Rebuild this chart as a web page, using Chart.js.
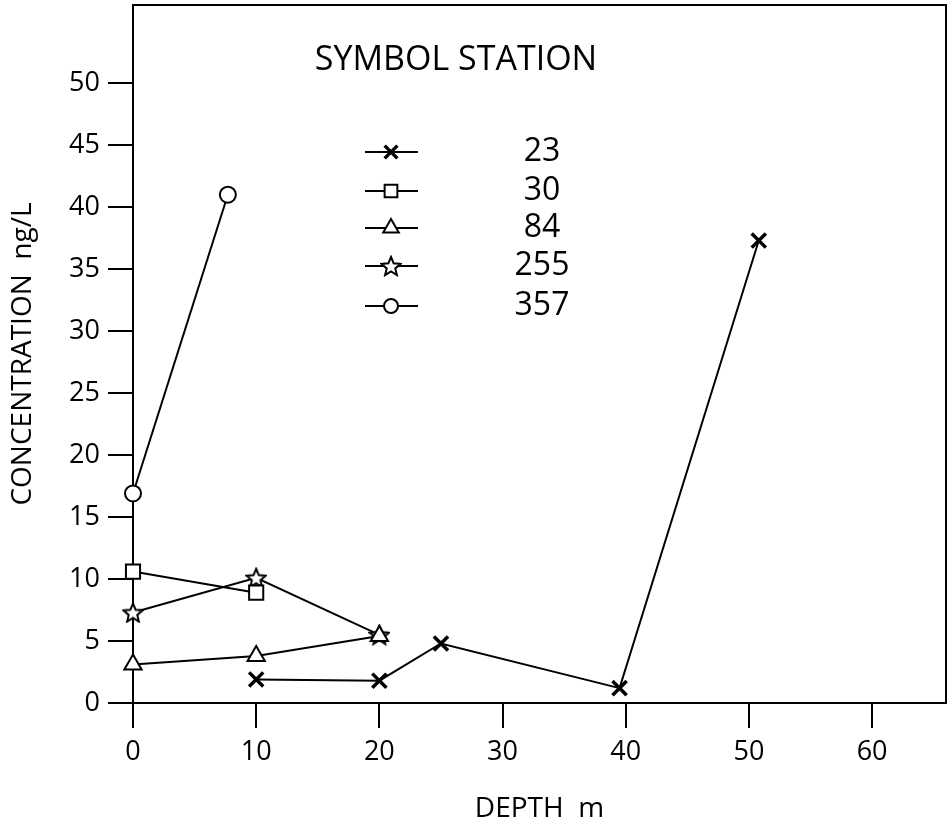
<!DOCTYPE html>
<html lang="en">
<head>
<meta charset="UTF-8">
<title>Concentration vs depth</title>
<script src="https://cdn.jsdelivr.net/npm/chart.js@4/dist/chart.umd.min.js"></script>
<style>
  body { margin: 0; background: #fff; }
  #wrap { width: 948px; height: 826px; }
</style>
</head>
<body>
<div id="wrap"><canvas id="chart" width="948" height="826"></canvas></div>
<script>
  // stations and their (depth, concentration) readings
  const stations = ['23', '30', '84', '255', '357'];
  const depth23 = [10, 20, 25, 39.5, 50.8];
  const conc23 = [1.9, 1.8, 4.8, 1.2, 37.3];
  const depth30 = [0, 10];
  const conc30 = [10.6, 8.9];
  const depth84 = [0, 10, 20];
  const conc84 = [3.1, 3.8, 5.4];
  const depth255 = [0, 10, 20];
  const conc255 = [7.3, 10.1, 5.5];
  const depth357 = [0, 7.7];
  const conc357 = [16.9, 41.0];
  const xTicks = [0, 10, 20, 30, 40, 50, 60];
  const yTicks = [0, 5, 10, 15, 20, 25, 30, 35, 40, 45, 50];

  const FONT = "'Open Sans', 'DejaVu Sans', sans-serif";

  // outlined five point star for station 255
  const star = document.createElement('canvas');
  star.width = 22; star.height = 22;
  (function () {
    const c = star.getContext('2d');
    c.beginPath();
    for (let i = 0; i < 10; i++) {
      const r = i % 2 === 0 ? 10 : 4.5;
      const a = -Math.PI / 2 + i * Math.PI / 5;
      const px = 11 + r * Math.cos(a), py = 12 + r * Math.sin(a);
      if (i === 0) c.moveTo(px, py); else c.lineTo(px, py);
    }
    c.closePath();
    c.fillStyle = '#fff';
    c.fill();
    c.lineWidth = 2;
    c.strokeStyle = '#000';
    c.stroke();
  })();

  function pts(xs, ys) {
    return xs.map((x, i) => ({ x: x, y: ys[i] }));
  }

  const styles = ['crossRot', 'rect', 'triangle', star, 'circle'];
  const radii = [10, 10, 10, 8, 8];
  const series = [
    pts(depth23, conc23),
    pts(depth30, conc30),
    pts(depth84, conc84),
    pts(depth255, conc255),
    pts(depth357, conc357)
  ];

  const datasets = series.map((d, i) => ({
    label: stations[i],
    data: d,
    showLine: true,
    clip: false,
    borderColor: '#000',
    borderWidth: 2,
    pointStyle: styles[i],
    pointRadius: radii[i],
    pointBorderWidth: i === 0 ? 3.5 : 2,
    pointBackgroundColor: '#fff',
    pointBorderColor: '#000'
  }));

  const framePlugin = {
    id: 'frame',
    afterDraw(chart) {
      const ctx = chart.ctx;
      const a = chart.chartArea;
      ctx.save();
      ctx.strokeStyle = '#000';
      ctx.lineWidth = 2;
      ctx.beginPath();
      ctx.moveTo(a.left, a.top);
      ctx.lineTo(a.right, a.top);
      ctx.lineTo(a.right, a.bottom);
      ctx.stroke();

      // legend box inside the plot
      ctx.fillStyle = '#000';
      ctx.textBaseline = 'middle';
      ctx.textAlign = 'center';
      ctx.font = '34px ' + FONT;
      ctx.fillText('SYMBOL STATION', 456, 60);
      const rows = [152, 191, 228, 266, 306];
      stations.forEach((s, i) => {
        const y = rows[i];
        ctx.strokeStyle = '#000';
        ctx.lineWidth = 2;
        ctx.beginPath();
        ctx.moveTo(365, y);
        ctx.lineTo(418, y);
        ctx.stroke();
        ctx.fillStyle = '#fff';
        ctx.lineWidth = i === 0 ? 3.5 : 2;
        Chart.helpers.drawPoint(ctx, {
          pointStyle: styles[i],
          radius: radii[i] - 1,
          borderWidth: i === 0 ? 3.5 : 2,
          rotation: 0
        }, 391, y);
        ctx.fillStyle = '#000';
        ctx.font = '32px ' + FONT;
        ctx.fillText(s, 542, y);
      });
      ctx.restore();
    }
  };

  new Chart(document.getElementById('chart'), {
    type: 'scatter',
    data: { datasets: datasets },
    options: {
      responsive: false,
      animation: false,
      layout: { autoPadding: false, padding: { top: 5, right: 2, left: 0, bottom: 0 } },
      plugins: {
        legend: { display: false },
        tooltip: { enabled: false }
      },
      scales: {
        x: {
          type: 'linear',
          min: 0,
          max: 66,
          afterBuildTicks: s => { s.ticks = xTicks.map(v => ({ value: v })); },
          afterFit: s => { s.height = 123; s.paddingLeft = 0; s.paddingRight = 0; },
          border: { display: true, color: '#000', width: 2 },
          grid: { drawOnChartArea: false, tickLength: 25, tickColor: '#000', lineWidth: 2 },
          ticks: { color: '#000', font: { family: FONT, size: 27 }, padding: 8, maxRotation: 0 },
          title: {
            display: true,
            text: 'DEPTH  m',
            color: '#000',
            font: { family: FONT, size: 28 },
            padding: { top: 14, bottom: 0 }
          }
        },
        y: {
          type: 'linear',
          min: 0,
          max: 56.3,
          afterBuildTicks: s => { s.ticks = yTicks.map(v => ({ value: v })); },
          afterFit: s => { s.width = 133; s.paddingTop = 0; s.paddingBottom = 0; },
          border: { display: true, color: '#000', width: 2 },
          grid: { drawOnChartArea: false, tickLength: 25, tickColor: '#000', lineWidth: 2 },
          ticks: { color: '#000', font: { family: FONT, size: 27 }, padding: 8 },
          title: {
            display: true,
            text: 'CONCENTRATION  ng/L',
            color: '#000',
            font: { family: FONT, size: 28 },
            padding: { top: 6, bottom: 0 }
          }
        }
      }
    },
    plugins: [framePlugin]
  });
</script>
</body>
</html>
